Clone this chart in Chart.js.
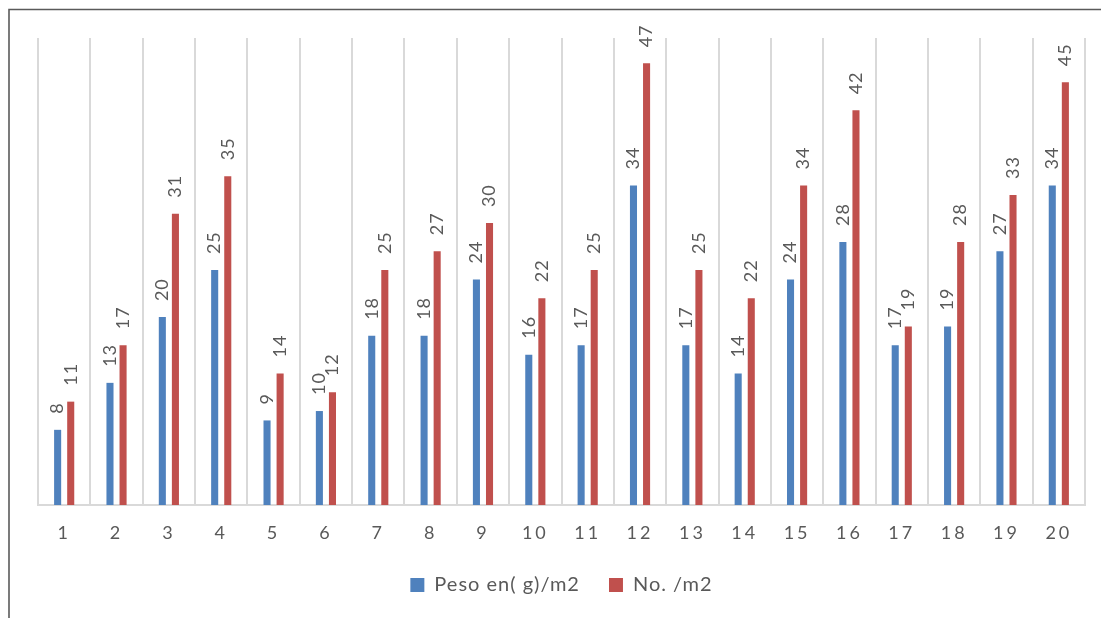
<!DOCTYPE html>
<html>
<head>
<meta charset="utf-8">
<style>
  html, body { margin: 0; padding: 0; background: #ffffff; }
  #wrap { width: 1101px; height: 618px; position: relative; }
</style>
<script src="https://cdn.jsdelivr.net/npm/chart.js@4/dist/chart.umd.min.js"></script>
</head>
<body>
<div id="wrap"><canvas id="chart" width="1101" height="618"></canvas></div>
<script>
// Sampling points 1..20
const categories = ['1', '2', '3', '4', '5', '6', '7', '8', '9', '10',
                    '11', '12', '13', '14', '15', '16', '17', '18', '19', '20'];
// Weight in grams per square metre
const pesoValues = [8, 13, 20, 25, 9, 10, 18, 18, 24, 16, 17, 34, 17, 14, 24, 28, 17, 19, 27, 34];
// Count per square metre
const numeroValues = [11, 17, 31, 35, 14, 12, 25, 27, 30, 22, 25, 47, 25, 22, 34, 42, 19, 28, 33, 45];
const seriesNames = ['Peso en( g)/m2', 'No. /m2'];

const TEXT_COLOR = '#595959';
const FONT = 'Lato';

// Outer frame (left and top edges)
const framePlugin = {
  id: 'frame',
  afterDraw(chart) {
    const ctx = chart.ctx;
    ctx.save();
    ctx.strokeStyle = '#5a5a5a';
    ctx.lineWidth = 1.6;
    ctx.beginPath();
    ctx.moveTo(9, 618);
    ctx.lineTo(9, 9.5);
    ctx.lineTo(1101, 9.5);
    ctx.stroke();
    ctx.restore();
  }
};

// Text spacing: a little tracking overall, wider on the category labels
const spacingPlugin = {
  id: 'spacing',
  beforeLayout(chart) { chart.ctx.letterSpacing = '1px'; },
  beforeDraw(chart) { chart.ctx.letterSpacing = '1px'; },
  afterUpdate(chart) {
    const sx = chart.scales.x;
    if (sx && !sx._spacedLabels) {
      const orig = sx.drawLabels;
      sx.drawLabels = function (area) {
        const ctx = this.ctx;
        const prev = ctx.letterSpacing;
        ctx.letterSpacing = '3px';
        orig.call(this, area);
        ctx.letterSpacing = prev;
      };
      sx._spacedLabels = true;
    }
  }
};

// Vertical value labels above each bar
const valueLabelPlugin = {
  id: 'valueLabels',
  afterDatasetsDraw(chart) {
    const ctx = chart.ctx;
    chart.data.datasets.forEach((ds, i) => {
      const meta = chart.getDatasetMeta(i);
      if (meta.hidden) return;
      meta.data.forEach((bar, j) => {
        ctx.save();
        ctx.translate(bar.x, bar.y - 16);
        ctx.rotate(-Math.PI / 2);
        ctx.font = '18px ' + FONT;
        ctx.letterSpacing = '1px';
        ctx.fillStyle = TEXT_COLOR;
        ctx.textAlign = 'left';
        ctx.textBaseline = 'middle';
        ctx.fillText(String(ds.data[j]), 0, 0);
        ctx.restore();
      });
    });
  }
};

new Chart(document.getElementById('chart'), {
  type: 'bar',
  data: {
    labels: categories,
    datasets: [
      {
        label: seriesNames[0],
        data: pesoValues,
        backgroundColor: '#4f81bd',
        borderWidth: 0,
        categoryPercentage: 0.5,
        barPercentage: 0.54
      },
      {
        label: seriesNames[1],
        data: numeroValues,
        backgroundColor: '#c0504d',
        borderWidth: 0,
        categoryPercentage: 0.5,
        barPercentage: 0.54
      }
    ]
  },
  options: {
    responsive: false,
    animation: false,
    devicePixelRatio: 1,
    layout: { padding: { left: 38, right: 16, top: 38, bottom: 13 } },
    scales: {
      x: {
        grid: { color: '#d9d9d9', lineWidth: 2, drawTicks: false, offset: true },
        border: { color: '#d9d9d9', width: 2 },
        ticks: { color: TEXT_COLOR, font: { family: FONT, size: 18 }, padding: 17, maxRotation: 0 },
        afterFit(scale) { scale.height = 41; }
      },
      y: {
        display: false,
        min: 0,
        max: 49.7
      }
    },
    plugins: {
      legend: {
        position: 'bottom',
        labels: {
          boxWidth: 14,
          boxHeight: 14,
          padding: 29,
          color: TEXT_COLOR,
          font: { family: FONT, size: 20 }
        }
      },
      tooltip: { enabled: false }
    }
  },
  plugins: [framePlugin, spacingPlugin, valueLabelPlugin]
});
</script>
</body>
</html>
